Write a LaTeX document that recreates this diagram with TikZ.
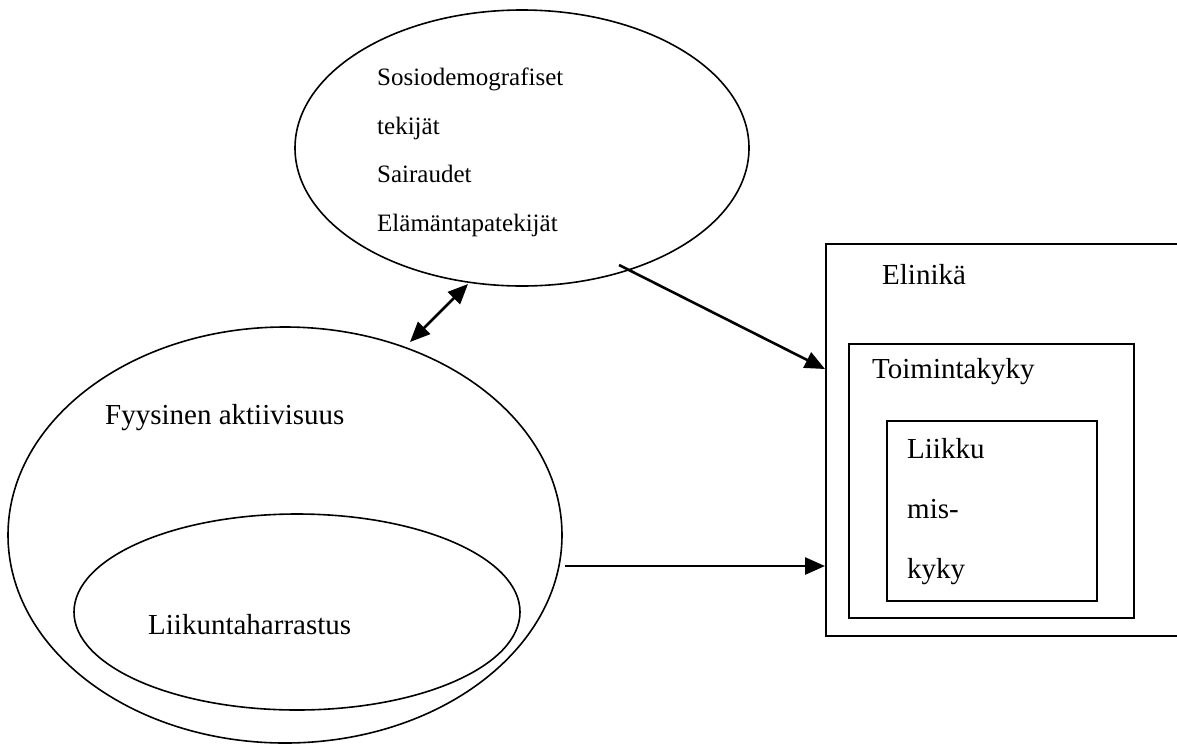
\documentclass[tikz,border=0pt]{standalone}
\usepackage{fontspec}
\setmainfont{Liberation Serif}
\usetikzlibrary{arrows.meta,shapes.geometric}
\begin{document}
\begin{tikzpicture}[x=1pt,y=-1pt,
  outline/.style={draw,line width=1.6pt,inner sep=0pt},
  oval/.style={outline,ellipse},
  boxshape/.style={outline,rectangle,anchor=north west},
  conn/.style={line width=2.6pt,-{Triangle[length=20pt,width=17pt]}},
  biconn/.style={line width=2.6pt,{Triangle[length=20pt,width=17pt]}-{Triangle[length=20pt,width=17pt]}},
  big/.style={font=\fontsize{29}{60}\selectfont,inner sep=0pt,anchor=west},
  small/.style={font=\fontsize{25}{48.5}\selectfont,inner sep=0pt,align=left},
]
\useasboundingbox (0,0) rectangle (1177,745);
\clip (0,0) rectangle (1177,745);
% ellipses
\node[oval,minimum width=454pt,minimum height=276pt] (socio) at (522,148) {};
\node[oval,minimum width=554pt,minimum height=416pt] (phys) at (285,535) {};
\node[oval,minimum width=446pt,minimum height=196pt] (hobby) at (297,612) {};
% boxes
\node[boxshape,minimum width=400pt,minimum height=392pt] (outer) at (825,243) {};
\node[boxshape,minimum width=285pt,minimum height=274pt] (func) at (848,343) {};
\node[boxshape,minimum width=210pt,minimum height=180pt] (mob) at (886,420) {};
% texts
\node[small,anchor=north west] (sociotxt) at (377,68) {Sosiodemografiset\\tekijät\\Sairaudet\\Elämäntapatekijät};
\node[big] (phystxt) at (105,418) {Fyysinen aktiivisuus};
\node[big] (hobbytxt) at (148,625) {Liikuntaharrastus};
\node[big] (lifetxt) at (882,275) {Elinikä};
\node[big] (functxt) at (872,372) {Toimintakyky};
\node[big,anchor=north west,align=left] (mobtxt) at (907,438) {Liikku\\mis-\\kyky};
% connectors
\coordinate (dA) at (410,342);
\coordinate (dB) at (468,284);
\draw[biconn] (dA) -- (dB);
\coordinate (s1) at (619,265);
\coordinate (y1) at (0,369);
\draw[conn] (s1) -- (outer.west |- y1);
\coordinate (s2) at (565,566);
\draw[conn] (s2) -- (outer.west |- s2);
\end{tikzpicture}
\end{document}
